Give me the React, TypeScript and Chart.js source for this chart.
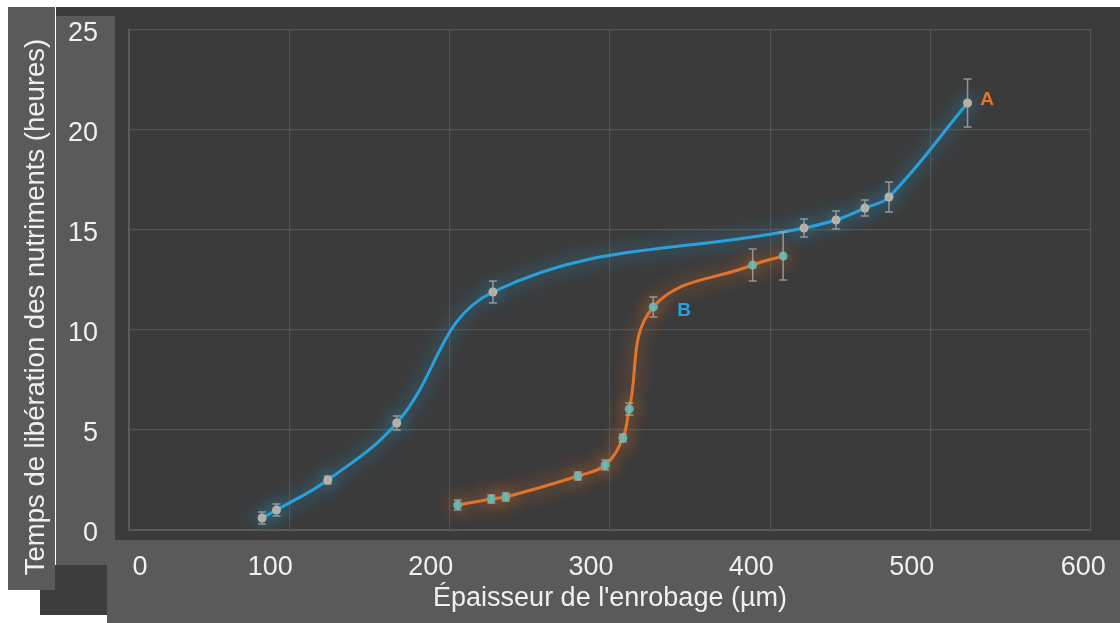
import React, { useEffect, useRef } from "react";
import { Chart, registerables } from "chart.js";

Chart.register(...registerables);

// ---- data ----
const xTickLabels = ["0", "100", "200", "300", "400", "500", "600"];
const yTickLabels = ["0", "5", "10", "15", "20", "25"];

const seriesAName = "A";
const seriesAX = [83, 92, 124, 167, 227, 421, 441, 459, 474, 523];
const seriesAY = [0.6, 1.0, 2.5, 5.35, 11.9, 15.1, 15.5, 16.1, 16.65, 21.35];
const seriesAErr = [0.3, 0.3, 0.2, 0.35, 0.55, 0.45, 0.45, 0.4, 0.75, 1.2];

const seriesBName = "B";
const seriesBX = [205, 226, 235, 280, 297, 308, 312, 327, 389, 408];
const seriesBY = [1.25, 1.55, 1.65, 2.7, 3.25, 4.6, 6.05, 11.15, 13.25, 13.7];
const seriesBErr = [0.25, 0.2, 0.2, 0.2, 0.25, 0.2, 0.3, 0.5, 0.8, 1.2];

const labelTexts = ["A", "B"];
const labelX = [531, 342];
const labelY = [21.5, 10.95];

const xTitle = "Épaisseur de l'enrobage (µm)";
const yTitle = "Temps de libération des nutriments (heures)";

const BLUE = "#27a2db";
const ORANGE = "#e2742c";
const FONT = "'Liberation Sans', Arial, sans-serif";

export default function App() {
  const ref = useRef<HTMLCanvasElement | null>(null);

  useEffect(() => {
    if (!ref.current) return;

    const glowPlugin = {
      id: "glow",
      beforeDatasetDraw(chart: any, args: any) {
        const ds = chart.data.datasets[args.index];
        chart.ctx.save();
        chart.ctx.shadowColor = ds.borderColor;
        chart.ctx.shadowBlur = 18;
      },
      afterDatasetDraw(chart: any) {
        chart.ctx.restore();
      },
    };

    const errorPlugin = {
      id: "errorBars",
      afterDatasetsDraw(chart: any) {
        const { ctx } = chart;
        const xs = chart.scales.x;
        const ys = chart.scales.y;
        const groups = [
          { X: seriesAX, Y: seriesAY, E: seriesAErr },
          { X: seriesBX, Y: seriesBY, E: seriesBErr },
        ];
        ctx.save();
        ctx.strokeStyle = "rgba(170,170,170,0.8)";
        ctx.lineWidth = 1.5;
        groups.forEach((g) => {
          g.X.forEach((xv, i) => {
            const px = xs.getPixelForValue(xv);
            const t = ys.getPixelForValue(g.Y[i] + g.E[i]);
            const b = ys.getPixelForValue(g.Y[i] - g.E[i]);
            ctx.beginPath();
            ctx.moveTo(px, t);
            ctx.lineTo(px, b);
            ctx.moveTo(px - 4, t);
            ctx.lineTo(px + 4, t);
            ctx.moveTo(px - 4, b);
            ctx.lineTo(px + 4, b);
            ctx.stroke();
          });
        });
        ctx.restore();
      },
    };

    const textPlugin = {
      id: "texts",
      afterDraw(chart: any) {
        const { ctx } = chart;
        const xs = chart.scales.x;
        const ys = chart.scales.y;
        const colors = [ORANGE, BLUE];
        ctx.save();
        ctx.font = `bold 19px ${FONT}`;
        ctx.textAlign = "left";
        ctx.textBaseline = "middle";
        labelTexts.forEach((t, i) => {
          ctx.fillStyle = colors[i];
          ctx.fillText(t, xs.getPixelForValue(labelX[i]), ys.getPixelForValue(labelY[i]));
        });
        ctx.restore();
        // y axis title
        ctx.save();
        ctx.translate(36, 307);
        ctx.rotate(-Math.PI / 2);
        ctx.font = `27.5px ${FONT}`;
        ctx.fillStyle = "#efefef";
        ctx.textAlign = "center";
        ctx.textBaseline = "middle";
        ctx.fillText(yTitle, 0, 0);
        ctx.restore();
      },
    };

    const xPad = [8, 0, 0, 0, 0, 0, 3];

    const chart = new Chart(ref.current, {
      type: "line",
      data: {
        datasets: [
          {
            label: seriesAName,
            data: seriesAX.map((x, i) => ({ x, y: seriesAY[i] })),
            borderColor: BLUE,
            borderWidth: 3,
            tension: 0.4,
            pointRadius: 4.5,
            pointBackgroundColor: "#b9b2a6",
            pointBorderWidth: 0,
            fill: false,
          },
          {
            label: seriesBName,
            data: seriesBX.map((x, i) => ({ x, y: seriesBY[i] })),
            borderColor: ORANGE,
            borderWidth: 3,
            tension: 0.4,
            pointRadius: 4.5,
            pointBackgroundColor: "#5fb5ab",
            pointBorderWidth: 0,
            fill: false,
          },
        ],
      },
      options: {
        animation: false,
        responsive: false,
        devicePixelRatio: 1,
        layout: { padding: { left: 0, top: 30, right: 29, bottom: 0 } },
        plugins: {
          legend: { display: false },
          tooltip: { enabled: false },
        },
        scales: {
          x: {
            type: "linear",
            min: 0,
            max: 600,
            afterFit: (s: any) => {
              s.height = 93;
              s.paddingLeft = 0;
              s.paddingRight = 0;
              s.paddingTop = 0;
              s.paddingBottom = 0;
            },
            grid: { color: "#535353", drawTicks: false, lineWidth: 1.2 },
            border: { color: "#5a5a5a", width: 2 },
            ticks: {
              stepSize: 100,
              autoSkip: false,
              maxRotation: 0,
              labelOffset: -19,
              padding: 21,
              color: "#f0f0f0",
              font: { family: FONT, size: 27 },
              callback: (_v: any, i: number) => " ".repeat(xPad[i] || 0) + xTickLabels[i],
            },
            title: {
              display: true,
              text: xTitle,
              color: "#f0f0f0",
              font: { family: FONT, size: 27 },
              padding: { top: 0, bottom: 8 },
            },
          },
          y: {
            type: "linear",
            min: 0,
            max: 25,
            afterFit: (s: any) => {
              s.width = 129;
              s.paddingLeft = 0;
              s.paddingRight = 0;
              s.paddingTop = 0;
              s.paddingBottom = 0;
            },
            grid: { color: "#535353", drawTicks: false, lineWidth: 1.2 },
            border: { color: "#5a5a5a", width: 2 },
            ticks: {
              stepSize: 5,
              padding: 31,
              labelOffset: 4,
              color: "#f0f0f0",
              font: { family: FONT, size: 27 },
              callback: (_v: any, i: number) => yTickLabels[i],
            },
          },
        },
      },
      plugins: [glowPlugin, errorPlugin, textPlugin],
    } as any);

    return () => chart.destroy();
  }, []);

  return (
    <div style={{ position: "absolute", left: 0, top: 0, width: 1120, height: 623, background: "#ffffff", overflow: "hidden" }}>
      <div style={{ position: "absolute", left: 56, top: 7, width: 1064, height: 558, background: "#3b3b3b" }} />
      <div style={{ position: "absolute", left: 40, top: 565, width: 73, height: 50, background: "#3d3d3d" }} />
      <div style={{ position: "absolute", left: 56, top: 16, width: 59, height: 549, background: "#5a5a5a" }} />
      <div style={{ position: "absolute", left: 8, top: 7, width: 47, height: 583, background: "#5a5a5a" }} />
      <div style={{ position: "absolute", left: 107, top: 540, width: 1013, height: 83, background: "#5a5a5a" }} />
      <canvas ref={ref} width={1120} height={623} style={{ position: "absolute", left: 0, top: 0 }} />
    </div>
  );
}
